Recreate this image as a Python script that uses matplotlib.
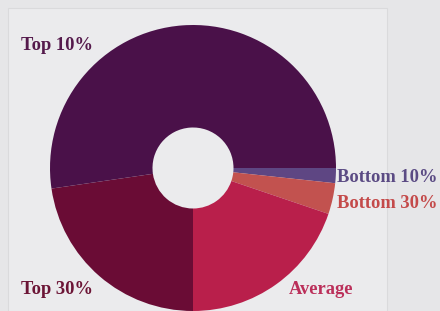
import matplotlib
matplotlib.use("Agg")
import matplotlib.pyplot as plt
from matplotlib.patches import Rectangle

# share of the total, going clockwise from the 3 o'clock position
labels = ["Bottom 10%", "Bottom 30%", "Average", "Top 30%", "Top 10%"]
shares = [1.7, 3.5, 19.8, 22.7, 52.3]
slice_colors = ["#5e4683", "#c2524f", "#b91f4b", "#6a0c35", "#4a1149"]
text_colors = ["#5b4b84", "#c44a4a", "#bb2f5a", "#6c1536", "#551a4c"]

W, H = 440, 311
fig = plt.figure(figsize=(W / 100, H / 100), dpi=100)
fig.patch.set_facecolor("#e6e6e8")

# faint panel behind the chart
panel = Rectangle((8 / W, 0), (387 - 8) / W, (H - 8) / H, transform=fig.transFigure,
                  facecolor="#ebebed", edgecolor="#dadadc", linewidth=0.8, zorder=-5)
fig.patches.append(panel)

# pie centre (193, 168) px, radius 143 px
cx, cy, r = 193, 168, 143
ax = fig.add_axes([(cx - r) / W, (H - cy - r) / H, 2 * r / W, 2 * r / H])
ax.set_zorder(2)
ax.patch.set_alpha(0)
ax.pie(shares, colors=slice_colors, startangle=0, counterclock=False,
       radius=1.0, wedgeprops=dict(width=1 - 40.5 / 143, linewidth=0))
ax.set_xlim(-1, 1)
ax.set_ylim(-1, 1)
ax.set_aspect("equal")
ax.axis("off")

# label positions in pixels (left edge, vertical centre)
label_pos = {
    "Top 10%": (21, 46),
    "Top 30%": (21, 289),
    "Average": (289, 289),
    "Bottom 10%": (337, 177),
    "Bottom 30%": (337, 204),
}
for name, col in zip(labels, text_colors):
    x, y = label_pos[name]
    fig.text(x / W, 1 - y / H, name, color=col, fontsize=13.3, fontweight="bold",
             family="Liberation Serif", ha="left", va="center", zorder=3)

fig.savefig("out.png", dpi=100, facecolor=fig.get_facecolor())
